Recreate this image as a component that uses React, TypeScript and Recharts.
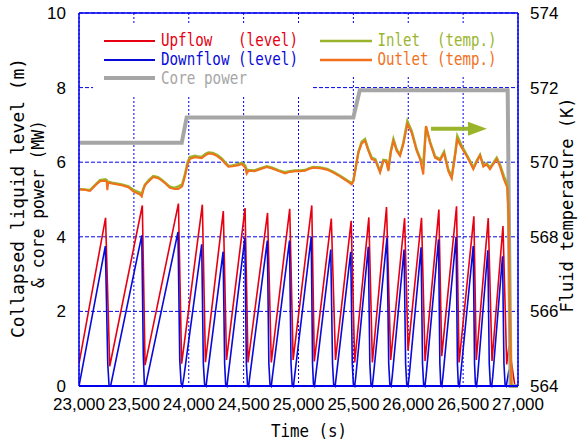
import { ComposedChart, Line, XAxis, YAxis, CartesianGrid, ReferenceLine, ReferenceDot } from 'recharts'

// axes
const timeTicks = [23000, 23500, 24000, 24500, 25000, 25500, 26000, 26500, 27000]
const levelTicks = [0, 2, 4, 6, 8, 10]
const tempTicks = [564, 566, 568, 570, 572, 574]

// upflow collapsed level (m) - sawtooth vertices
const upflowTime = [23000, 23242, 23280, 23577, 23602, 23906, 23935, 24124, 24152, 24315, 24344, 24513, 24540, 24718, 24752, 24920, 24951, 25121, 25144, 25299, 25337, 25480, 25512, 25641, 25673, 25802, 25840, 25967, 25998, 26121, 26153, 26279, 26305, 26440, 26463, 26598, 26620, 26729, 26763, 26863, 26897, 26918, 26972, 27000]
const upflowLevel = [0.6, 4.51, 0.53, 4.84, 0.56, 4.89, 0.6, 4.86, 0.64, 4.69, 0.7, 4.77, 0.63, 4.64, 0.63, 4.75, 0.7, 4.84, 0.66, 4.49, 0.7, 4.43, 0.63, 4.52, 0.63, 4.8, 0.7, 4.5, 0.95, 4.51, 0.67, 4.73, 0.8, 4.82, 0.63, 4.55, 0.7, 4.5, 0.67, 4.29, 0.58, 1.07, 0, 0]

// downflow collapsed level (m)
const downflowTime = [
    23000, 23240, 23262, 23274, 23288,
    23572, 23586, 23596, 23606,
    23902, 23918, 23930, 23942, 23956,
    24118, 24133, 24144, 24158, 24170,
    24313, 24327, 24336, 24348, 24358,
    24511, 24525, 24535, 24546, 24556,
    24716, 24730, 24740, 24752, 24762,
    24918, 24932, 24942, 24954, 24964,
    25116, 25128, 25136, 25146, 25156,
    25294, 25310, 25320, 25334, 25344,
    25476, 25490, 25500, 25512, 25522,
    25636, 25650, 25660, 25672, 25682,
    25806, 25822, 25832, 25844, 25854,
    25962, 25976, 25986, 25998, 26008,
    26117, 26130, 26140, 26152, 26162,
    26276, 26288, 26296, 26306, 26316,
    26436, 26448, 26456, 26466, 26476,
    26592, 26604, 26612, 26622, 26632,
    26725, 26738, 26748, 26760, 26770,
    26859, 26872, 26882, 26893, 26918, 26932, 27000,
]
const downflowLevel = [
    0, 3.75, 0.6, 0, 0,
    4.04, 0.8, 0, 0,
    4.13, 0.7, 0.08, 0, 0.25,
    3.8, 0.6, 0.05, 0, 0.3,
    3.6, 0.6, 0.05, 0, 0.25,
    3.97, 0.6, 0.05, 0, 0.25,
    3.9, 0.6, 0.05, 0, 0.25,
    3.9, 0.6, 0.05, 0, 0.25,
    4.0, 0.6, 0.05, 0, 0.25,
    3.66, 0.6, 0.05, 0, 0.25,
    3.6, 0.6, 0.05, 0, 0.25,
    3.73, 0.6, 0.05, 0, 0.25,
    3.97, 0.6, 0.05, 0, 0.25,
    3.66, 0.6, 0.05, 0, 0.25,
    3.72, 0.6, 0.05, 0, 0.25,
    3.93, 0.6, 0.05, 0, 0.25,
    4.0, 0.6, 0.05, 0, 0.25,
    3.75, 0.6, 0.05, 0, 0.25,
    3.64, 0.6, 0.05, 0, 0.25,
    3.48, 0.6, 0.05, 0, 0.43, 0, 0,
]

// core power (MW)
const powerTime = [23000, 23936, 23981, 25500, 25558, 26906, 26932, 27000]
const powerMW = [6.52, 6.52, 7.2, 7.2, 7.93, 7.93, 0, 0]

// fluid temperature (K)
const tempTime = [
    23000, 23050, 23100, 23150, 23191, 23240, 23252, 23258, 23266, 23300,
    23389, 23450, 23495, 23556, 23571, 23585, 23601, 23640, 23677, 23720,
    23753, 23790, 23829, 23870, 23905, 23940, 23966, 23990, 24011, 24057,
    24090, 24118, 24150, 24179, 24220, 24260, 24300, 24330, 24361, 24400,
    24452, 24482, 24500, 24515, 24528, 24545, 24600, 24650, 24710, 24760,
    24820, 24877, 24920, 24968, 25014, 25059, 25100, 25135, 25200, 25260,
    25317, 25360, 25408, 25450, 25485, 25500, 25546, 25576, 25606, 25637,
    25667, 25700, 25743, 25773, 25800, 25819, 25840, 25865, 25895, 25925,
    25955, 25992, 26031, 26077, 26107, 26137, 26162, 26198, 26244, 26290,
    26326, 26365, 26396, 26426, 26447, 26487, 26533, 26563, 26593, 26623,
    26654, 26684, 26714, 26745, 26775, 26806, 26836, 26872, 26903, 26915,
    26925, 26940, 27000,
]
const outletTemp = [
    569.27, 569.26, 569.23, 569.38, 569.49, 569.5, 569.48, 569.25, 569.45, 569.43,
    569.38, 569.33, 569.22, 569.13, 569.08, 569.25, 569.38, 569.5, 569.6, 569.57,
    569.51, 569.42, 569.31, 569.28, 569.28, 569.35, 569.63, 569.95, 570.09, 570.13,
    570.12, 570.11, 570.18, 570.23, 570.22, 570.16, 570.07, 569.97, 569.88, 569.89,
    569.92, 569.95, 569.9, 569.85, 569.69, 569.77, 569.76, 569.81, 569.87, 569.83,
    569.76, 569.7, 569.74, 569.76, 569.76, 569.77, 569.82, 569.85, 569.84, 569.8,
    569.72, 569.65, 569.56, 569.48, 569.4, 569.49, 570.26, 570.5, 570.57, 570.3,
    570.08, 570.05, 569.72, 570.03, 570.02, 569.76, 570.25, 570.57, 570.3, 570.17,
    570.48, 571.02, 570.79, 570.3, 570.08, 569.67, 570.97, 570.52, 570.12, 570.05,
    570.24, 569.76, 569.56, 570.16, 570.61, 570.39, 570.16, 569.99, 569.81, 570.0,
    570.18, 569.88, 569.94, 569.81, 569.95, 570.08, 569.88, 569.54, 569.31, 568.5,
    566.0, 564.0, 564.0,
]
const inletTemp = [
    569.28, 569.27, 569.25, 569.4, 569.52, 569.54, 569.52, 569.45, 569.48, 569.45,
    569.4, 569.35, 569.26, 569.18, 569.12, 569.28, 569.4, 569.53, 569.63, 569.6,
    569.53, 569.44, 569.34, 569.31, 569.35, 569.4, 569.68, 570.0, 570.14, 570.17,
    570.15, 570.14, 570.22, 570.26, 570.25, 570.19, 570.1, 570.0, 569.9, 569.91,
    569.95, 569.98, 569.95, 569.9, 569.8, 569.79, 569.78, 569.83, 569.89, 569.85,
    569.78, 569.73, 569.76, 569.78, 569.78, 569.79, 569.84, 569.87, 569.86, 569.82,
    569.74, 569.67, 569.58, 569.5, 569.44, 569.5, 570.28, 570.55, 570.62, 570.34,
    570.12, 570.08, 569.76, 570.06, 570.05, 569.8, 570.28, 570.62, 570.34, 570.2,
    570.52, 571.1, 570.84, 570.34, 570.12, 569.95, 570.95, 570.55, 570.16, 570.08,
    570.28, 569.8, 569.62, 570.2, 570.7, 570.44, 570.2, 570.03, 569.85, 570.04,
    570.2, 569.92, 569.97, 569.85, 569.98, 570.12, 569.93, 569.62, 569.4, 568.6,
    566.1, 564.0, 564.0,
]

const RED = '#e60012'
const BLUE = '#0a0ad8'
const GRAY = '#a6a6a6'
const GREEN = '#9ab52c'
const ORANGE = '#f2701c'
const GRID = '#0000ee'

const upflowData = upflowTime.map((t, i) => ({ t, v: upflowLevel[i] }))
const downflowData = downflowTime.map((t, i) => ({ t, v: downflowLevel[i] }))
const powerData = powerTime.map((t, i) => ({ t, v: powerMW[i] }))
const tempData = tempTime.map((t, i) => ({ t, inlet: inletTemp[i], outlet: outletTemp[i] }))

const tickFont = "'Liberation Sans Narrow', 'Liberation Sans', Arial, sans-serif"
const monoFont = "'DejaVu Sans Mono', monospace"

const ArrowHead = (props: any) => {
    const { cx, cy } = props
    return <polygon points={`${cx},${cy} ${cx - 19},${cy - 7} ${cx - 19},${cy + 7}`} fill={GREEN} />
}

function Overlay() {
    const txt = (x: number, y: number, s: string, color: string, len: number) => (
        <text x={x} y={y} fill={color} fontFamily={monoFont} fontSize={17} textLength={len}
            lengthAdjust="spacingAndGlyphs" style={{ whiteSpace: 'pre' }}>{s}</text>
    )
    return (
        <svg width={578} height={446} style={{ position: 'absolute', left: 0, top: 0, pointerEvents: 'none' }}>
            {/* legend backgrounds hide the grid */}
            <rect x={93} y={24} width={219} height={73} fill="#fff" />
            <rect x={312} y={24} width={193} height={52} fill="#fff" />

            <line x1={104} x2={155} y1={41} y2={41} stroke={RED} strokeWidth={2} />
            {txt(161, 46, 'Upflow   (level)', RED, 137)}
            <line x1={104} x2={155} y1={60} y2={60} stroke={BLUE} strokeWidth={2} />
            {txt(161, 64.5, 'Downflow (level)', BLUE, 137)}
            <line x1={104} x2={155} y1={78} y2={78} stroke={GRAY} strokeWidth={4} />
            {txt(161, 83.5, 'Core power', GRAY, 86)}

            <line x1={320} x2={372} y1={41} y2={41} stroke={GREEN} strokeWidth={2.5} />
            {txt(377.5, 46, 'Inlet  (temp.)', GREEN, 119)}
            <line x1={320} x2={372} y1={60} y2={60} stroke={ORANGE} strokeWidth={2.5} />
            {txt(377.5, 64.5, 'Outlet (temp.)', ORANGE, 119)}

            {/* axis titles */}
            <text x={271} y={437} fill="#000" fontFamily={monoFont} fontSize={18} textLength={76}
                lengthAdjust="spacingAndGlyphs" style={{ whiteSpace: 'pre' }}>Time (s)</text>
            <text transform="translate(23.5,198) rotate(-90)" textAnchor="middle" fill="#000" fontFamily={monoFont}
                fontSize={18} textLength={280} lengthAdjust="spacingAndGlyphs" style={{ whiteSpace: 'pre' }}>
                Collapsed liquid level (m)
            </text>
            <text transform="translate(44,204) rotate(-90)" textAnchor="middle" fill="#000" fontFamily={monoFont}
                fontSize={18} textLength={168} lengthAdjust="spacingAndGlyphs" style={{ whiteSpace: 'pre' }}>
                &amp; core power (MW)
            </text>
            <text transform="translate(573,205) rotate(-90)" textAnchor="middle" fill="#000" fontFamily={monoFont}
                fontSize={18} textLength={215} lengthAdjust="spacingAndGlyphs" style={{ whiteSpace: 'pre' }}>
                Fluid temperature (K)
            </text>
        </svg>
    )
}

export default function App() {
    const tickStyle = { fill: '#000', fontSize: 17, fontFamily: tickFont }
    return (
        <div style={{ position: 'absolute', left: 0, top: 0, width: 578, height: 446, background: '#fff' }}>
            <ComposedChart width={578} height={446} margin={{ top: 13, right: 0, bottom: 0, left: 0 }}>
                <CartesianGrid xAxisId="x" yAxisId="left" vertical={false} stroke={GRID} strokeDasharray="4 2" />
                <CartesianGrid xAxisId="x" yAxisId="left" horizontal={false} stroke={GRID} strokeDasharray="2 2" />
                <XAxis
                    xAxisId="x"
                    dataKey="t"
                    type="number"
                    domain={[23000, 27000]}
                    allowDataOverflow
                    ticks={timeTicks}
                    tickFormatter={(v: number) => v.toLocaleString('en-US')}
                    height={60}
                    tickSize={0}
                    tickMargin={12}
                    tickLine={false}
                    axisLine={{ stroke: GRID, strokeWidth: 2 }}
                    tick={tickStyle}
                />
                <XAxis
                    xAxisId="top"
                    orientation="top"
                    dataKey="t"
                    type="number"
                    domain={[23000, 27000]}
                    allowDataOverflow
                    ticks={timeTicks}
                    height={1}
                    mirror
                    tickSize={8}
                    tick={false}
                    tickLine={{ stroke: GRID, strokeWidth: 1.5 }}
                    axisLine={{ stroke: GRID, strokeWidth: 1.5 }}
                />
                <YAxis
                    yAxisId="left"
                    type="number"
                    domain={[0, 10]}
                    ticks={levelTicks}
                    width={79}
                    tickSize={0}
                    tickMargin={13}
                    tickLine={false}
                    axisLine={{ stroke: GRID, strokeWidth: 1.5 }}
                    tick={tickStyle}
                />
                <YAxis
                    yAxisId="right"
                    orientation="right"
                    type="number"
                    domain={[564, 574]}
                    ticks={tempTicks}
                    width={60}
                    tickSize={0}
                    tickMargin={12}
                    tickLine={false}
                    axisLine={{ stroke: GRID, strokeWidth: 1.5 }}
                    tick={tickStyle}
                />
                <Line data={upflowData} xAxisId="x" yAxisId="left" dataKey="v" stroke={RED} strokeWidth={1.6}
                    dot={false} isAnimationActive={false} type="linear" />
                <Line data={downflowData} xAxisId="x" yAxisId="left" dataKey="v" stroke={BLUE} strokeWidth={1.6}
                    dot={false} isAnimationActive={false} type="linear" />
                <Line data={powerData} xAxisId="x" yAxisId="left" dataKey="v" stroke={GRAY} strokeWidth={4}
                    dot={false} isAnimationActive={false} type="linear" />
                <Line data={tempData} xAxisId="x" yAxisId="right" dataKey="inlet" stroke={GREEN} strokeWidth={2.5}
                    dot={false} isAnimationActive={false} type="linear" />
                <Line data={tempData} xAxisId="x" yAxisId="right" dataKey="outlet" stroke={ORANGE} strokeWidth={2}
                    dot={false} isAnimationActive={false} type="linear" />
                <ReferenceLine xAxisId="x" yAxisId="right" stroke={GREEN} strokeWidth={4}
                    segment={[{ x: 26207, y: 570.9 }, { x: 26560, y: 570.9 }]} />
                <ReferenceDot xAxisId="x" yAxisId="right" x={26717} y={570.9} shape={ArrowHead} />
            </ComposedChart>
            <Overlay />
        </div>
    )
}
